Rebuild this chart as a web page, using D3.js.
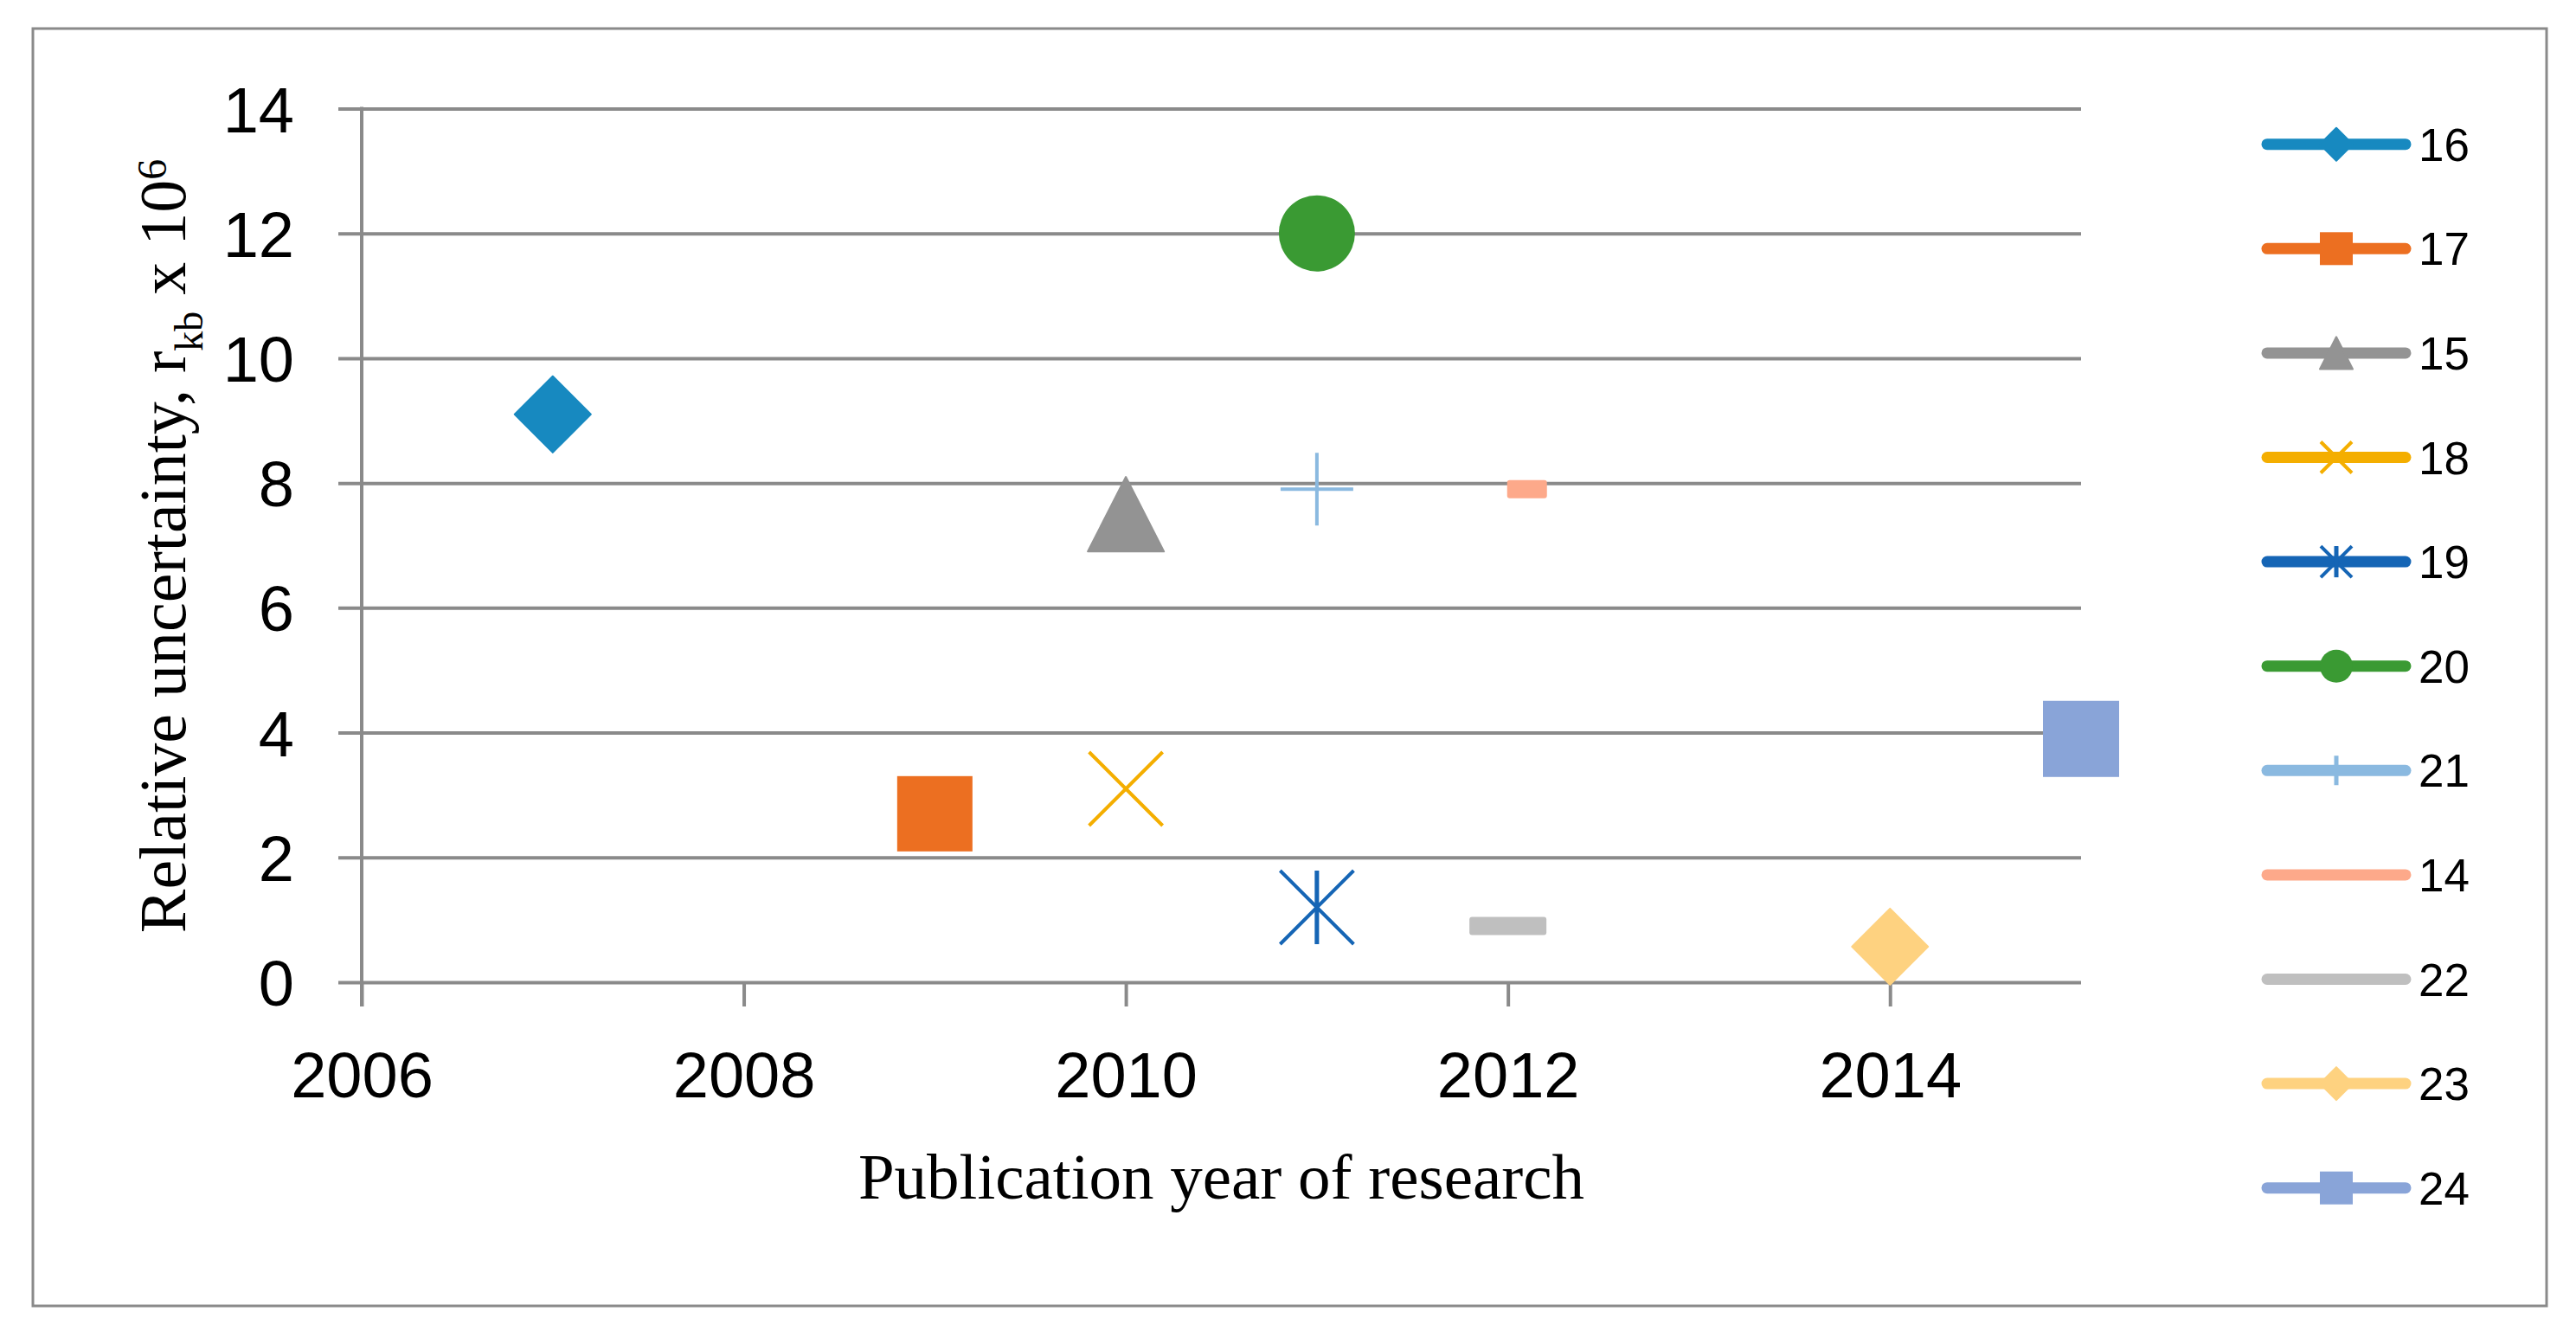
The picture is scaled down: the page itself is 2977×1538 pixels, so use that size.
<!DOCTYPE html>
<html>
<head>
<meta charset="utf-8">
<script src="https://cdn.jsdelivr.net/npm/d3@7"></script>
<style>
  html, body { margin: 0; padding: 0; background: #fff; }
  svg { display: block; }
</style>
</head>
<body>
<script>
// ---------- data ----------
const seriesNames = ["16", "17", "15", "18", "19", "20", "21", "14", "22", "23", "24"];
const years       = [2007, 2009, 2010, 2010, 2011, 2011, 2011, 2012.1, 2012, 2014, 2015];
const values      = [9.1, 2.7, 7.5, 3.1, 1.2, 12.0, 7.9, 7.9, 0.9, 0.57, 3.9];
const markerTypes = ["diamond", "square", "triangle", "x", "star", "circle", "plus", "dash", "dash", "diamond", "square"];
const colors      = ["#1789c0", "#ec6f21", "#939393", "#f4ae00", "#1565b5", "#3a9a33", "#8ab9e0", "#fda98a", "#bfbfbf", "#fed280", "#89a4d8"];
const markerSizes = [88, 87, 88, 85, 85, 88, 84, 46, 89, 88, 88];
const xTicks = [2006, 2008, 2010, 2012, 2014];
const yTicks = [0, 2, 4, 6, 8, 10, 12, 14];
const xTitle = "Publication year of research";

// ---------- layout ----------
const W = 2977, H = 1538;
const plot = { left: 418, right: 2405, top: 125.5, bottom: 1135 };
const gridColor = "#8a8a8a";

const svg = d3.select("body").append("svg").attr("width", W).attr("height", H);
svg.append("rect").attr("width", W).attr("height", H).attr("fill", "#fff");

// outer border
svg.append("rect")
  .attr("x", 38).attr("y", 33).attr("width", 2943 - 38).attr("height", 1509 - 33)
  .attr("fill", "none").attr("stroke", gridColor).attr("stroke-width", 3);

const x = d3.scaleLinear().domain([2006, 2015]).range([plot.left, plot.right]);
const y = d3.scaleLinear().domain([0, 14]).range([plot.bottom, plot.top]);

// y axis with gridlines
const tickOut = 27;
const yAxis = d3.axisLeft(y).tickValues(yTicks)
  .tickSize(-(plot.right - plot.left + tickOut)).tickPadding(51).tickFormat(d3.format("d"));
const gy = svg.append("g").attr("transform", `translate(${plot.left - tickOut},0)`).call(yAxis);
gy.select(".domain").remove();
gy.selectAll(".tick line").attr("stroke", gridColor).attr("stroke-width", 4);
gy.selectAll(".tick text")
  .attr("font-family", "'Liberation Sans', Arial, sans-serif")
  .attr("font-size", 74).attr("fill", "#000").attr("dy", "0.36em");

// x axis ticks + labels
const xAxis = d3.axisBottom(x).tickValues(xTicks).tickSize(28).tickPadding(52).tickFormat(d3.format("d"));
const gx = svg.append("g").attr("transform", `translate(0,${plot.bottom})`).call(xAxis);
gx.select(".domain").remove();
gx.selectAll(".tick line").attr("stroke", gridColor).attr("stroke-width", 4);
gx.selectAll(".tick text")
  .attr("font-family", "'Liberation Sans', Arial, sans-serif")
  .attr("font-size", 74).attr("fill", "#000");

// vertical axis line
svg.append("line")
  .attr("x1", x(2006)).attr("x2", x(2006))
  .attr("y1", y(14) - 2).attr("y2", plot.bottom + 28)
  .attr("stroke", gridColor).attr("stroke-width", 4);

// ---------- markers ----------
function markerShape(g, type, s, color, legend) {
  const r = s / 2;
  const sw = legend ? 4 : 4;
  if (type === "diamond") {
    g.append("path").attr("d", `M0,${-r}L${r},0L0,${r}L${-r},0Z`)
      .attr("fill", color).attr("stroke", color).attr("stroke-width", 2).attr("stroke-linejoin", "round");
  } else if (type === "square") {
    g.append("rect").attr("x", -r).attr("y", -r).attr("width", s).attr("height", s).attr("fill", color);
  } else if (type === "triangle") {
    const h = s * 0.98;
    g.append("path").attr("d", `M0,${-h / 2}L${r},${h / 2}L${-r},${h / 2}Z`)
      .attr("fill", color).attr("stroke", color).attr("stroke-width", 2).attr("stroke-linejoin", "round");
  } else if (type === "circle") {
    g.append("circle").attr("r", r).attr("fill", color);
  } else if (type === "x") {
    g.append("path").attr("d", `M${-r},${-r}L${r},${r}M${-r},${r}L${r},${-r}`)
      .attr("fill", "none").attr("stroke", color).attr("stroke-width", sw);
  } else if (type === "star") {
    g.append("path").attr("d", `M${-r},${-r}L${r},${r}M${-r},${r}L${r},${-r}M0,${-r}L0,${r}`)
      .attr("fill", "none").attr("stroke", color).attr("stroke-width", sw);
    g.append("path").attr("d", `M0,${-r}L0,${r}`)
      .attr("fill", "none").attr("stroke", color).attr("stroke-width", sw + 1);
  } else if (type === "plus") {
    g.append("path").attr("d", `M${-r},0L${r},0M0,${-r}L0,${r}`)
      .attr("fill", "none").attr("stroke", color).attr("stroke-width", legend ? 5 : 4);
  } else if (type === "dash") {
    if (!legend) {
      g.append("rect").attr("x", -r).attr("y", -10.5).attr("width", s).attr("height", 21)
        .attr("rx", 3).attr("fill", color);
    }
  }
}

const points = seriesNames.map((name, i) => ({
  name, year: years[i], value: values[i], type: markerTypes[i], color: colors[i], size: markerSizes[i]
}));

const gp = svg.append("g");
gp.selectAll("g.pt").data(points).join("g")
  .attr("class", "pt")
  .attr("transform", d => `translate(${x(d.year)},${y(d.value)})`)
  .each(function (d) { markerShape(d3.select(this), d.type, d.size, d.color, false); });

// ---------- legend ----------
const legTop = 166.7, legStep = 120.6;
const lg = svg.append("g");
const items = lg.selectAll("g.leg").data(points).join("g")
  .attr("class", "leg")
  .attr("transform", (d, i) => `translate(2700,${legTop + i * legStep})`);
items.append("line").attr("x1", -80).attr("x2", 80).attr("y1", 0).attr("y2", 0)
  .attr("stroke", d => d.color).attr("stroke-width", 13).attr("stroke-linecap", "round");
items.each(function (d) {
  const g = d3.select(this);
  const s = d.type === "plus" ? 34 : (d.type === "x" || d.type === "star") ? 36 : 38;
  markerShape(g, d.type, s, d.color, true);
});
items.append("text").attr("x", 95).attr("y", 0).attr("dy", "0.36em")
  .attr("font-family", "'Liberation Sans', Arial, sans-serif")
  .attr("font-size", 53).attr("fill", "#000")
  .text(d => d.name);

// ---------- axis titles ----------
svg.append("text")
  .attr("x", (plot.left + plot.right) / 2).attr("y", 1385)
  .attr("text-anchor", "middle")
  .attr("font-family", "'Liberation Serif', 'Times New Roman', serif")
  .attr("font-size", 75).attr("fill", "#000")
  .text(xTitle);

const yt = svg.append("text")
  .attr("transform", "translate(214,631) rotate(-90)")
  .attr("text-anchor", "middle")
  .attr("font-family", "'Liberation Serif', 'Times New Roman', serif")
  .attr("font-size", 76).attr("fill", "#000");
yt.append("tspan").text("Relative uncertainty, r");
yt.append("tspan").attr("font-size", 46).attr("dy", 20).text("kb");
yt.append("tspan").attr("dy", -20).text(" x 10");
yt.append("tspan").attr("font-size", 48).attr("dy", -22).text("6");
</script>
</body>
</html>
